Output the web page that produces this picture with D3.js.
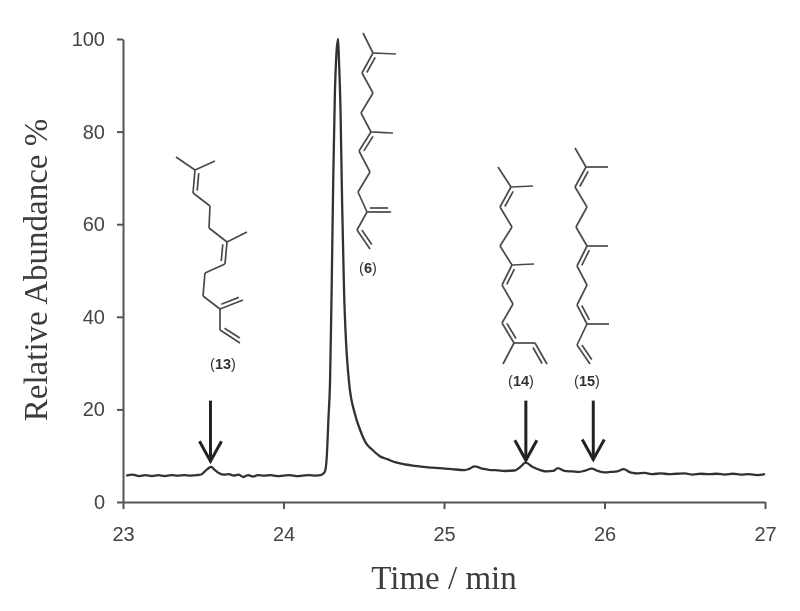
<!DOCTYPE html>
<html>
<head>
<meta charset="utf-8">
<script src="https://cdn.jsdelivr.net/npm/d3@7"></script>
<style>
  html, body { margin: 0; padding: 0; background: #fffffd; }
  svg { display: block; }
  .tick text { font-family: "Liberation Sans", Arial, sans-serif; font-size: 20px; fill: #444; }
  .title { font-family: "Liberation Serif", "Times New Roman", serif; fill: #3c3c3c; }
  .code { font-family: "Liberation Sans", Arial, sans-serif; font-size: 14.5px; fill: #333; text-anchor: middle; }
</style>
</head>
<body>
<div id="chart"></div>
<script>
// Trace
var times = [23.02,23.06,23.10,23.14,23.18,23.22,23.26,23.30,23.34,23.38,23.42,23.46,23.49,23.51,23.55,23.57,23.60,23.63,23.66,23.69,23.72,23.75,23.78,23.81,23.84,23.88,23.92,23.96,24.00,24.04,24.08,24.12,24.16,24.20,24.23,24.25,24.26,24.27,24.28,24.29,24.30,24.31,24.32,24.33,24.34,24.346,24.355,24.365,24.377,24.408,24.445,24.477,24.514,24.55,24.60,24.65,24.695,24.76,24.82,24.90,24.975,25.05,25.13,25.16,25.19,25.24,25.29,25.32,25.38,25.44,25.47,25.51,25.55,25.60,25.64,25.68,25.71,25.75,25.80,25.84,25.88,25.92,25.96,26.00,26.04,26.08,26.12,26.16,26.20,26.25,26.30,26.35,26.40,26.45,26.50,26.55,26.60,26.65,26.70,26.75,26.80,26.85,26.90,26.95,27.00];
var abundance = [5.7,5.9,5.6,5.8,5.6,5.8,5.6,5.8,5.7,5.8,5.7,5.8,6.0,6.6,7.6,7.0,6.2,5.9,6.0,5.7,5.9,5.4,5.8,5.5,5.8,5.7,5.8,5.6,5.7,5.8,5.6,5.7,5.8,5.7,5.8,6.2,6.8,10,18,26,46,70,88,97,100,95,85,65,46,26,19,15.6,12.7,11.4,9.9,9.2,8.6,8.1,7.8,7.5,7.3,7.1,6.9,7.2,7.7,7.2,6.9,6.9,6.7,6.8,7.4,8.5,7.6,6.9,6.6,6.7,7.3,6.7,6.6,6.5,6.8,7.2,6.7,6.4,6.5,6.6,7.1,6.4,6.2,6.3,6.0,6.2,6.0,6.1,6.2,5.9,6.1,6.0,6.1,5.9,6.1,5.9,6.0,5.8,6.0];

var xTicks = [23, 24, 25, 26, 27];
var yTicks = [0, 20, 40, 60, 80, 100];

// Peak arrows: time, abundance at the tail, abundance at the tip
var arrowTimes = [23.545, 25.51, 25.93];
var arrowTails = [21.9, 21.9, 21.9];
var arrowTips = [8.8, 9.0, 9.2];

var width = 800;
var height = 611;

var x = d3.scaleLinear().domain([23, 27]).range([123, 765]);
var y = d3.scaleLinear().domain([0, 100]).range([502, 39]);

var svg = d3.select('#chart').append('svg')
    .attr('width', width)
    .attr('height', height);

// the reference is a soft scan
var defs = svg.append('defs');
defs.append('filter').attr('id', 'soft')
    .append('feGaussianBlur').attr('stdDeviation', 0.45);

var g = svg.append('g').attr('filter', 'url(#soft)');

// Axes
var xAxis = g.append('g')
    .attr('transform', 'translate(0,' + y(0) + ')')
    .call(d3.axisBottom(x).tickValues(xTicks).tickFormat(d3.format('d')).tickSize(7).tickPadding(18).tickSizeOuter(0));
var yAxis = g.append('g')
    .attr('transform', 'translate(' + x(23) + ',0)')
    .call(d3.axisLeft(y).tickValues(yTicks).tickSize(6).tickPadding(12).tickSizeOuter(0));
[xAxis, yAxis].forEach(function(a) {
  a.selectAll('path, line').attr('stroke', '#555').attr('stroke-width', 2);
});

// Trace
var trace = d3.line()
    .x(function(d, i) { return x(times[i]); })
    .y(function(d) { return y(d); })
    .curve(d3.curveMonotoneX);
g.append('path')
    .attr('d', trace(abundance))
    .attr('fill', 'none')
    .attr('stroke', '#333')
    .attr('stroke-width', 2.3)
    .attr('stroke-linejoin', 'round');

// Arrows
arrowTimes.forEach(function(t, i) {
  var px = x(t);
  var tip = y(arrowTips[i]);
  g.append('line')
      .attr('x1', px).attr('x2', px)
      .attr('y1', y(arrowTails[i])).attr('y2', tip)
      .attr('stroke', '#222').attr('stroke-width', 3);
  g.append('path')
      .attr('d', d3.line()([[px - 11, tip - 20], [px, tip], [px + 11, tip - 20]]))
      .attr('fill', 'none').attr('stroke', '#222').attr('stroke-width', 3);
});

// Axis titles
g.append('text').attr('class', 'title')
    .attr('transform', 'translate(47,270)rotate(-90)')
    .attr('text-anchor', 'middle')
    .style('font-size', '33px')
    .text('Relative Abundance %');
g.append('text').attr('class', 'title')
    .attr('x', 444).attr('y', 589)
    .attr('text-anchor', 'middle')
    .style('font-size', '33px')
    .text('Time / min');

// Structures, drawn as skeletons. Each bond is x1,y1,x2,y2, side of the second line (0 = single)
var structure13 = [
  [176,157,195,170,0],[215,161,195,170,0],[195,170,193,193,-1],[193,193,210,206,0],[210,206,209,228,0],
  [209,228,227,242,0],[247,232,227,242,0],[227,242,225,264,1],[225,264,205,273,0],[205,273,203,296,0],
  [203,296,220,309,0],[220,309,243,300,-1],[220,309,220,330,0],[220,330,240,343,-1]
];
var structure6 = [
  [363,33,373,53,0],[396,54,373,53,0],[373,53,362,73,-1],[362,73,373,93,0],[373,93,361,113,0],
  [361,113,371,132,0],[393,133,371,132,0],[371,132,359,151,-1],[359,151,370,172,0],[370,172,358,192,0],
  [358,192,367,212,0],[367,212,391,212,-1],[367,212,357,230,0],[357,230,370,249,-1]
];
var structure14 = [
  [498,167,511,187,0],[533,186,511,187,0],[511,187,500,207,-1],[500,207,512,227,0],[512,227,500,246,0],
  [500,246,512,265,0],[534,264,512,265,0],[512,265,502,285,-1],[502,285,513,304,0],[513,304,502,323,0],
  [502,323,514,343,-1],[514,343,503,364,0],[514,343,535,343,0],[535,343,547,364,1]
];
var structure15 = [
  [575,148,586,167,0],[608,167,586,167,0],[586,167,575,187,-1],[575,187,587,207,0],[587,207,576,227,0],
  [576,227,587,246,0],[608,246,587,246,0],[587,246,577,266,-1],[577,266,587,285,0],[587,285,577,305,0],
  [577,305,587,324,-1],[609,324,587,324,0],[587,324,577,345,0],[577,345,590,364,-1]
];

function drawStructure(bonds) {
  var mol = g.append('g').attr('fill', 'none').attr('stroke', '#4a4a4a').attr('stroke-width', 1.7);
  bonds.forEach(function(b) {
    mol.append('line').attr('x1', b[0]).attr('y1', b[1]).attr('x2', b[2]).attr('y2', b[3]);
    if(b[4] !== 0) {
      // second line of a double bond, offset and a bit shorter
      var dx = b[2] - b[0], dy = b[3] - b[1];
      var len = Math.sqrt(dx * dx + dy * dy);
      var ox = -dy / len * 4 * b[4], oy = dx / len * 4 * b[4];
      mol.append('line')
          .attr('x1', b[0] + dx * 0.12 + ox).attr('y1', b[1] + dy * 0.12 + oy)
          .attr('x2', b[2] - dx * 0.12 + ox).attr('y2', b[3] - dy * 0.12 + oy);
    }
  });
}
[structure13, structure6, structure14, structure15].forEach(drawStructure);

// Compound numbers
var codes = [['13', 223, 369], ['6', 368, 273], ['14', 521, 386], ['15', 587, 386]];
codes.forEach(function(c) {
  var t = g.append('text').attr('class', 'code').attr('x', c[1]).attr('y', c[2]);
  t.append('tspan').text('(');
  t.append('tspan').style('font-weight', 'bold').text(c[0]);
  t.append('tspan').text(')');
});
</script>
</body>
</html>
